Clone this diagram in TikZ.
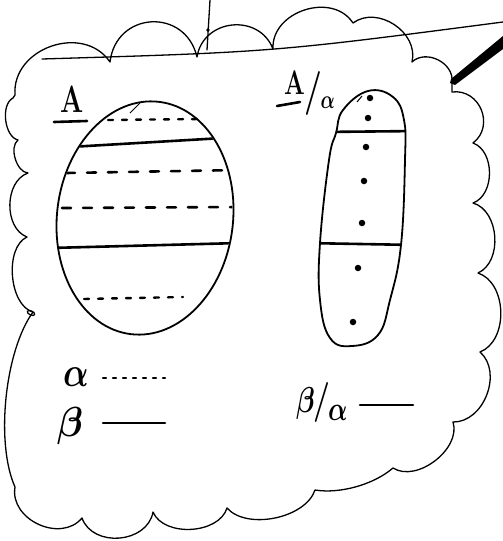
\RequirePackage{fix-cm}
\documentclass[tikz,border=0pt]{standalone}
\usetikzlibrary{calc}
\newcommand{\fsz}[1]{\fontsize{#1}{#1}\selectfont}
\begin{document}
\begin{tikzpicture}[x=1pt,y=-1pt,
  cloudline/.style={line width=1.3pt, line join=round, line cap=round},
  bulge/.style={bend left=#1},
  outline/.style={line width=1.8pt},
  solidband/.style={line width=2.6pt, line cap=round},
  dashband/.style={line width=2.6pt, line cap=round, dash pattern=on 9pt off 12pt},
  dotband/.style={line width=2.4pt, line cap=round, dash pattern=on 5pt off 9pt},
  dotmark/.style={fill=black, circle, inner sep=0pt, minimum size=6.5pt},
  lbl/.style={inner sep=0pt, font=\bfseries\boldmath},
  ]
\useasboundingbox (0,0) rectangle (503,541);

% cloud outline
\draw[cloudline]
 (15,95) to[bulge=75, looseness=1.2] (110,62)
 to[bulge=80, looseness=1.5] (197,57)
 to[bulge=75, looseness=1.3] (273,49)
 to[bulge=75, looseness=1.15] (353,23)
 to[bulge=70, looseness=1.1] (412,62)
 to[bulge=70, looseness=1.1] (452,82)
 -- (452,92)
 to[bulge=75, looseness=1.3] (473,143)
 to[bulge=70, looseness=1.0] (473,203)
 to[bulge=70, looseness=1.0] (478,273)
 to[bulge=70, looseness=1.0] (480,352)
 to[bulge=70, looseness=1.05] (453,422)
 to[bulge=70, looseness=0.95] (393,468)
 to[bulge=25, looseness=0.8] (315,490)
 to[bulge=60, looseness=0.85] (227,508)
 to[bulge=70, looseness=0.95] (153,512)
 to[bulge=75, looseness=1.15] (82,518)
 to[bulge=75, looseness=1.15] (15,487)
 to[bulge=30, looseness=0.7] (33,312)
 to[bulge=70, looseness=0.85] (27,237)
 to[bulge=70, looseness=1.0] (28,173)
 to[bulge=70, looseness=0.85] (18,140)
 to[bulge=70, looseness=0.85] (13,98)
 -- (15,95);
\draw[cloudline, rotate around={-25:(31,313)}] (31,313) ellipse [x radius=4pt, y radius=2pt];

% string and pin line
\coordinate (s0) at (42,59);
\coordinate (s1) at (503,22);
\draw[cloudline] (s0) .. controls (273,52) .. (s1);
\coordinate (p0) at (210,0);
\coordinate (p1) at (207,50);
\draw[cloudline] (p0) -- (p1);
\fill (208,30) circle (1.8pt);

% pen
\fill (503,36) -- (503,49) -- (455,85) -- (450,83) -- (451,79) -- cycle;

% ellipse A
\draw[outline, shift={(145,218)}, rotate=-7] (0,0) ellipse [x radius=88pt, y radius=117pt];
\begin{scope}
  \clip[shift={(145,218)}, rotate=-7] (0,0) ellipse [x radius=87pt, y radius=116pt];
  \draw[solidband] (70,147) -- (240,137);
  \draw[dashband] (66,173) -- (240,170);
  \draw[dashband] (62,208) -- (240,207);
  \draw[solidband] (50,248) -- (240,243);
\end{scope}
\draw[dotband] (108,120) -- (200,119);
\draw[dotband] (84,299) -- (183,297);
\draw[line width=1pt] (130,113) -- (140,103);

% A / alpha shape
\def\slimshape{plot[smooth cycle, tension=0.7] coordinates {(368,91) (393,97) (404,120) (405,160) (401,245) (390,300) (378,335) (352,346) (330,338) (320,300) (320,243) (329,160) (336,133) (343,110)}}
\draw[outline] \slimshape;
\begin{scope}
  \clip \slimshape;
  \draw[solidband] (320,132) -- (420,131);
  \draw[solidband] (305,243) -- (415,245);
\end{scope}
\draw[line width=1pt] (357,102) -- (362,96);
\node[dotmark] (d1) at (370,98) {};
\node[dotmark] (d2) at (368,118) {};
\node[dotmark] (d3) at (366,147) {};
\node[dotmark] (d4) at (364,181) {};
\node[dotmark] (d5) at (362,223) {};
\node[dotmark] (d6) at (358,268) {};
\node[dotmark] (d7) at (353,322) {};

% labels
\node[lbl] (la) at (72,99) {\fsz{38}\scalebox{0.72}[1]{A}};
\draw[solidband] (54,122) -- (87,121);
\node[lbl, anchor=base west] (lb) at (284,94)
  {\scalebox{0.72}[1]{\fsz{34}A\kern-1pt\raisebox{-10pt}{\fsz{44}/}\kern-2pt\raisebox{-14pt}{\fsz{26}$\alpha$}}};
\draw[solidband] (277,106) -- (300,102);

% legend
\node[lbl] (ga) at (76,377) {\fsz{42}\scalebox{0.8}[1]{$\alpha$}};
\draw[line width=2.2pt, line cap=round, dash pattern=on 3pt off 7pt] (103,378) -- (165,378);
\node[lbl] (gb) at (70,426) {\fsz{42}\scalebox{0.9}[1]{$\beta$}};
\draw[solidband] (103,423) -- (165,423);
\node[lbl, anchor=base west] (gc) at (296,412)
  {\scalebox{0.75}[1]{\fsz{36}$\beta$\kern-2pt\fsz{40}/\kern-3pt\raisebox{-8pt}{\fsz{34}$\alpha$}}};
\draw[solidband] (360,405) -- (413,405);
\end{tikzpicture}
\end{document}
